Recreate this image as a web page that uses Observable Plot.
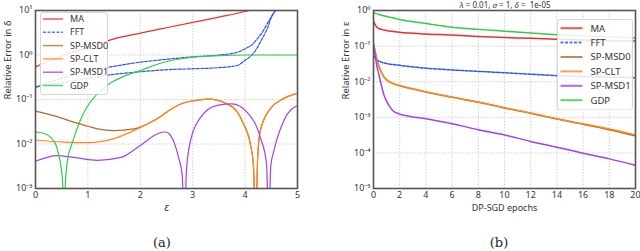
<!DOCTYPE html>
<html><head><meta charset="utf-8">
<script src="https://cdn.jsdelivr.net/npm/d3@7"></script>
<script src="https://cdn.jsdelivr.net/npm/@observablehq/plot@0.6"></script>
<style>
body{margin:0;background:#fff;}
#wrap{position:relative;width:640px;height:251px;overflow:hidden;font-family:"Noto Sans",sans-serif;background:#fff;}
.panel{position:absolute;top:0;}
.cap{position:absolute;font-family:"DejaVu Serif","Liberation Serif",serif;font-size:13px;color:#222;transform:translate(-50%,-50%);}
.title{position:absolute;font-family:"Noto Sans",sans-serif;font-size:8px;color:#333;transform:translateX(-50%);white-space:pre;}
</style></head>
<body><div id="wrap"></div>
<script>
// ---------- data: panel (a) relative error in delta vs epsilon ----------
const names = ["MA","FFT","SP-MSD0","SP-CLT","SP-MSD1","GDP"];
const xTicksA = [0,1,2,3,4,5];
const yTicksA = [1e-3,1e-2,1e-1,1,10];

const epsMA = [0,0.5,1,1.5,2,2.5,3,3.5,4,4.2];
const aMA   = [0.54,0.95,1.48,2.3,3.1,4.1,5.4,7.1,9.5,11];

const epsFFTu = [0,0.5,1,1.43,2,2.54,3,3.5,3.85,4,4.15,4.23,4.35,4.42,4.5,4.58,4.65];
const aFFTu   = [0.19,0.30,0.43,0.54,0.69,0.81,0.91,1.0,1.15,1.38,1.78,2.29,3.55,5.0,7.1,10,13];
const epsFFTl = [0,0.5,1,1.43,2,2.54,3,3.5,3.85,4,4.13,4.22,4.29,4.37,4.45,4.5,4.58,4.65];
const aFFTl   = [0.19,0.24,0.30,0.36,0.42,0.47,0.49,0.52,0.58,0.76,1.0,1.38,1.95,2.9,4.7,7.1,10,13];

const epsMSD0 = [0,0.4,0.73,1.0,1.18,1.5,1.88,2.2,2.39,2.54,2.77,3.0,3.3,3.66,3.85,3.97,4.10,4.16,4.2,4.24,4.29,4.48,4.7,5];
const aMSD0   = [0.055,0.0417,0.0309,0.0251,0.0219,0.020,0.0219,0.0309,0.0417,0.0562,0.0794,0.0933,0.102,0.0794,0.0525,0.0282,0.010,0.00316,0.0001,0.005,0.020,0.0617,0.1,0.138];

const epsCLT = [0,0.54,1.0,1.5,1.88,2.2,2.39,2.54,2.77,3.0,3.3,3.66,3.85,3.97,4.10,4.16,4.2,4.24,4.29,4.48,4.7,5];
const aCLT   = [0.0123,0.011,0.0107,0.0132,0.020,0.0309,0.0417,0.0562,0.0794,0.0933,0.102,0.0794,0.0525,0.0282,0.010,0.00316,0.0001,0.005,0.020,0.0617,0.1,0.138];

const epsMSD1 = [0,0.41,0.73,1.18,1.63,2.0,2.35,2.48,2.58,2.73,2.80,2.84,2.88,2.96,3.15,3.47,3.75,4.04,4.29,4.41,4.45,4.49,4.55,4.74,5];
const aMSD1   = [0.0041,0.0055,0.0050,0.0043,0.0050,0.0093,0.0174,0.0186,0.0155,0.0050,0.002,0.0001,0.0025,0.012,0.0398,0.0741,0.0794,0.0513,0.0141,0.00355,0.0001,0.00316,0.00708,0.0339,0.0741];

const epsGDP = [0,0.15,0.3,0.4,0.47,0.52,0.545,0.57,0.62,0.68,0.75,0.9,1.05,1.2,1.43,1.7,2,2.4,3,3.5,4,5];
const aGDP   = [0.0186,0.0174,0.0138,0.0089,0.0040,0.00126,0.0001,0.00126,0.0050,0.0089,0.0158,0.0447,0.089,0.141,0.234,0.339,0.447,0.66,0.89,0.966,1,1];

// ---------- data: panel (b) relative error in epsilon vs DP-SGD epochs ----------
const xTicksB = [0,2,4,6,8,10,12,14,16,18,20];
const yTicksB = [1e-5,1e-4,1e-3,1e-2,1e-1,1];

const epochsMA = [0,0.1,0.25,0.6,1,2,4,6,8,10,12,14,16,18,20];
const bMA      = [0.52,0.42,0.34,0.295,0.275,0.245,0.219,0.204,0.186,0.174,0.166,0.155,0.148,0.141,0.138];
const epochsFFT = [0,0.25,0.6,1,2,4,6,8,10,12,14,16,18,20];
const bFFT      = [0.0537,0.0417,0.0355,0.0324,0.0288,0.024,0.0214,0.0195,0.0178,0.0162,0.0148,0.0141,0.0135,0.0129];
const epochsSP = [0,0.1,0.25,0.4,0.6,0.8,1.1,1.5,2,3,4,5,6,8,10,12,14,16,18,20];
const bMSD0    = [0.115,0.077,0.043,0.028,0.0184,0.0137,0.0106,0.0088,0.0077,0.0062,0.0051,0.0043,0.00365,0.00265,0.00183,0.0013,0.00089,0.00064,0.00045,0.00030];
const bCLT     = [0.12,0.079,0.0437,0.0282,0.0186,0.0138,0.0107,0.0089,0.0078,0.0063,0.0052,0.00437,0.0037,0.0027,0.00186,0.00132,0.00091,0.00066,0.00047,0.00032];
const epochsMSD1 = [0,0.1,0.25,0.4,0.6,0.8,1.0,1.2,1.5,2,2.7,4,6,8,10,12,14,16,18,20];
const bMSD1      = [0.107,0.063,0.0282,0.0166,0.0079,0.0042,0.0028,0.0021,0.00151,0.00123,0.00107,0.00091,0.00066,0.00045,0.00032,0.00021,0.000145,0.000098,0.000068,0.000045];
const epochsGDP = [0,0.5,1,2,4,6,8,10,12,14,16,18,20];
const bGDP      = [0.87,0.76,0.68,0.56,0.43,0.34,0.295,0.263,0.234,0.209,0.195,0.182,0.170];

// ---------- styles ----------
const colors = {"MA":"#ee2c2c","FFT":"#2a55f0","SP-MSD0":"#b8662a","SP-CLT":"#ff8a1c","SP-MSD1":"#a040f0","GDP":"#33cc44"};

const rows = (xs, ys, s, z) => xs.map((x,i)=>({x, y: ys[i], s, z: z || s}));
const sup = {"-":"\u207B","0":"\u2070","1":"\u00B9","2":"\u00B2","3":"\u00B3","4":"\u2074","5":"\u2075"};
const supFmt = d => "10" + String(Math.round(Math.log10(d))).split("").map(c=>sup[c]).join("");

function lineMark(data, name, sw){
  return Plot.line(data, {x:"x", y:"y", z:"z", stroke: colors[name], strokeWidth: sw,
    strokeDasharray: name==="FFT" ? "3,1.5" : null, curve:"monotone-x", clip:true});
}

const wrap = d3.select("#wrap");

function panel(opts){
  const p = Plot.plot({
    width:320, height:215,
    marginLeft:opts.ml, marginRight:opts.mr, marginTop:10, marginBottom:27,
    style:{fontFamily:"Noto Sans", fontSize:"9px", color:"#333", background:"transparent", overflow:"visible"},
    x:{domain:opts.xd, ticks:opts.xt, tickFormat:d3.format("d"), tickSize:0, tickPadding:3, label:null},
    y:{type:"log", domain:opts.yd, ticks:opts.yt, tickFormat:supFmt, tickSize:0, tickPadding:3, label:null},
    marks:[
      Plot.gridX(opts.xt, {stroke:"#c4c4c4", strokeOpacity:1, strokeDasharray:"1.5,1.5", strokeWidth:0.8}),
      Plot.gridY(opts.yt, {stroke:"#c4c4c4", strokeOpacity:1, strokeDasharray:"1.5,1.5", strokeWidth:0.8}),
      ...opts.lines,
      Plot.frame({stroke:"#555", strokeWidth:1.6}),
      Plot.text([opts.ylab], {frameAnchor:"left", dx:-28, rotate:-90, fontSize:9.5, fill:"#333"}),
      Plot.text([opts.xlab], {frameAnchor:"bottom", dy:22.5, fontSize:opts.xfs, fontStyle:opts.xstyle, fill:"#333"})
    ]
  });
  d3.select(p).attr("class","panel").style("left", opts.left+"px");
  wrap.node().appendChild(p);
}

const swA = 1.2, swB = 1.5;
panel({
  left:0, ml:35, mr:23, xd:[0,5], yd:[1e-3,10], xt:xTicksA, yt:yTicksA,
  ylab:"Relative Error in \u03B4", xlab:"\u03B5", xfs:11, xstyle:"italic",
  lines:[
    lineMark(rows(epsMA,aMA,"MA"),"MA",swA),
    lineMark(rows(epsFFTu,aFFTu,"FFT","u").concat(rows(epsFFTl,aFFTl,"FFT","l")),"FFT",swA),
    lineMark(rows(epsMSD0,aMSD0,"SP-MSD0"),"SP-MSD0",swA),
    lineMark(rows(epsCLT,aCLT,"SP-CLT"),"SP-CLT",swA),
    lineMark(rows(epsMSD1,aMSD1,"SP-MSD1"),"SP-MSD1",swA),
    lineMark(rows(epsGDP,aGDP,"GDP"),"GDP",swA)
  ]
});
panel({
  left:320, ml:53, mr:5, xd:[0,20], yd:[1e-5,1], xt:xTicksB, yt:yTicksB,
  ylab:"Relative Error in \u03B5", xlab:"DP-SGD epochs", xfs:9, xstyle:"normal",
  lines:[
    lineMark(rows(epochsMA,bMA,"MA"),"MA",swB),
    lineMark(rows(epochsFFT,bFFT,"FFT"),"FFT",swB),
    lineMark(rows(epochsSP,bMSD0,"SP-MSD0"),"SP-MSD0",swB),
    lineMark(rows(epochsSP,bCLT,"SP-CLT"),"SP-CLT",swB),
    lineMark(rows(epochsMSD1,bMSD1,"SP-MSD1"),"SP-MSD1",swB),
    lineMark(rows(epochsGDP,bGDP,"GDP"),"GDP",swB)
  ]
});

// ---------- legends ----------
function legend(cfg){
  const svg = wrap.append("svg").style("position","absolute").style("left",cfg.x+"px").style("top",cfg.y+"px")
    .attr("width",cfg.w).attr("height",cfg.h);
  svg.append("rect").attr("x",0.5).attr("y",0.5).attr("width",cfg.w-1).attr("height",cfg.h-1).attr("rx",2.5)
    .attr("fill","#fff").attr("fill-opacity",0.85).attr("stroke","#d6d6d6");
  names.forEach((n,i)=>{
    const y = cfg.row0 + i*cfg.step;
    svg.append("line").attr("x1",cfg.lx0).attr("x2",cfg.lx1).attr("y1",y).attr("y2",y)
      .attr("stroke",colors[n]).attr("stroke-width",cfg.sw).attr("stroke-opacity",0.8)
      .attr("stroke-dasharray", n==="FFT" ? "3,1.5" : null);
    svg.append("text").attr("x",cfg.tx).attr("y",y).attr("dy","0.35em")
      .attr("font-family","Noto Sans").attr("font-size",cfg.fs).attr("fill","#333").text(n);
  });
}
legend({x:40, y:12, w:68, h:83, row0:7, step:13.3, lx0:3, lx1:23, tx:30, fs:9, sw:1.5});
legend({x:556.5, y:18.5, w:76, h:91.5, row0:9.2, step:14.4, lx0:3.5, lx1:25.5, tx:33.5, fs:9.5, sw:2});

// ---------- titles and captions ----------
wrap.append("div").attr("class","title").style("left","505px").style("top","-1px")
  .html("<i>\u03BB</i> = 0.01, <i>\u03C3</i> = 1, <i>\u03B4</i> =  1e-05");
wrap.append("div").attr("class","cap").style("left","162px").style("top","242px").text("(a)");
wrap.append("div").attr("class","cap").style("left","499px").style("top","242px").text("(b)");
</script>
</body></html>
